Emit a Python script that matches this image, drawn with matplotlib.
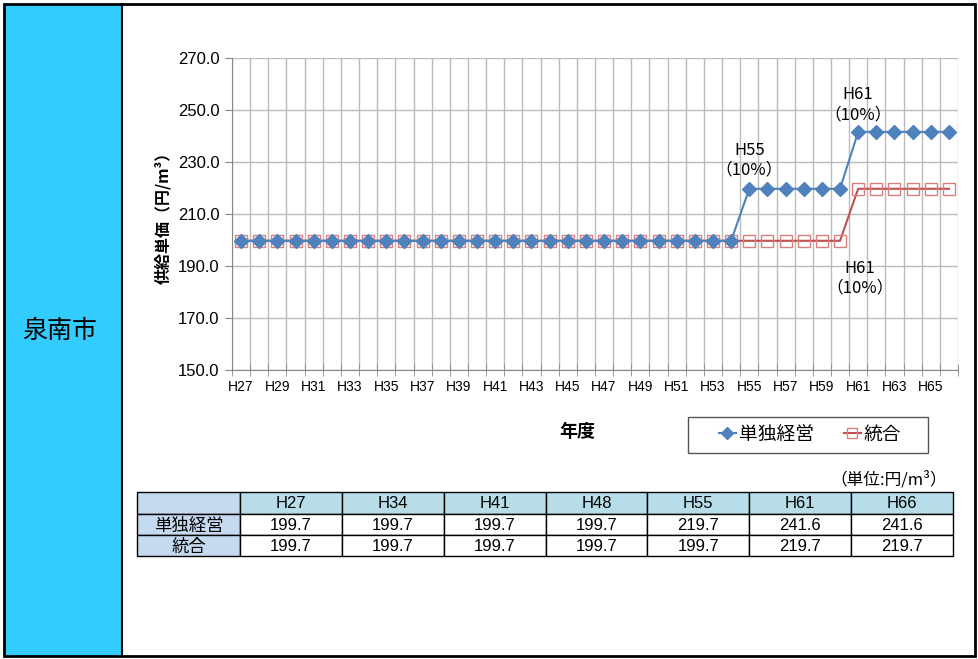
import matplotlib.pyplot as plt
from matplotlib.patches import Rectangle
import numpy as np

plt.rcParams['font.family'] = ['Liberation Sans', 'Noto Sans CJK JP', 'DejaVu Sans']

# ---------------------------------------------------------------------------
# Data
# ---------------------------------------------------------------------------
years = [f'H{y}' for y in range(27, 67)]
single = [199.7] * 28 + [219.7] * 6 + [241.6] * 6   # 単独経営
merged = [199.7] * 34 + [219.7] * 6                  # 統合

table_cols = ['H27', 'H34', 'H41', 'H48', 'H55', 'H61', 'H66']
table_single = [199.7, 199.7, 199.7, 199.7, 219.7, 241.6, 241.6]
table_merged = [199.7, 199.7, 199.7, 199.7, 199.7, 219.7, 219.7]

W, H = 979, 659
fig = plt.figure(figsize=(W / 100, H / 100), dpi=100)

def frac(x0, y0, x1, y1):
    # pixel box (top-left origin) -> figure fraction rect
    return [x0 / W, 1 - y1 / H, (x1 - x0) / W, (y1 - y0) / H]

# background overlay in pixel coordinates
bg = fig.add_axes([0, 0, 1, 1])
bg.set_xlim(0, W)
bg.set_ylim(H, 0)
bg.axis('off')
bg.add_patch(Rectangle((4, 4), 118, 652, facecolor='#33CCFF', edgecolor='none'))
bg.add_patch(Rectangle((4, 4), 971, 652, facecolor='none', edgecolor='black', lw=2))
bg.plot([122, 122], [4, 656], color='black', lw=1.5)
bg.text(60, 331, '泉南市', fontsize=18, ha='center', va='center')

# ---------------------------------------------------------------------------
# Chart
# ---------------------------------------------------------------------------
ax = fig.add_axes(frac(232, 58, 958, 370))
x = np.arange(len(years))
ax.plot(x, merged, color='#C0504D', lw=1.5, marker='s', ms=9,
        mfc='none', mec='#D9807E', mew=1, label='統合', zorder=3)
ax.plot(x, single, color='#4F81BD', lw=1.5, marker='D', ms=7,
        mfc='#4F81BD', mec='#4F81BD', label='単独経営', zorder=4)

ax.set_xlim(-0.5, len(years) - 0.5)
ax.set_ylim(150, 270)
ax.set_yticks(np.arange(150, 271, 20))
ax.set_yticklabels([f'{v:.1f}' for v in range(150, 271, 20)], fontsize=12)
ax.set_xticks(x[::2])
ax.set_xticklabels(years[::2], fontsize=10)
ax.set_xticks(np.arange(-0.5, len(years), 1), minor=True)
ax.tick_params(axis='x', which='major', length=0, pad=7)
ax.tick_params(axis='x', which='minor', direction='inout', length=8, color='#888888')
ax.tick_params(axis='y', direction='out', length=5, color='#888888', pad=4)
ax.grid(True, axis='y', which='major', color='#BBBBBB', lw=1)
ax.grid(True, axis='x', which='minor', color='#BBBBBB', lw=1)
for s in ['top', 'right']:
    ax.spines[s].set_visible(False)
for s in ['left', 'bottom']:
    ax.spines[s].set_color('#888888')

ax.set_ylabel('供給単価（円/m³）', fontsize=11.5, fontweight='bold', labelpad=5,
              family=['Noto Sans CJK JP', 'DejaVu Sans'])

cjk = ['Noto Sans CJK JP', 'DejaVu Sans']
ax.text(x[28], 223.5, 'H55\n（10%）', ha='center', va='bottom', fontsize=12,
        linespacing=1.25, family=cjk)
ax.text(x[34], 245, 'H61\n（10%）', ha='center', va='bottom', fontsize=12,
        linespacing=1.25, family=cjk)
ax.text(x[34] + 0.1, 192.5, 'H61\n（10%）', ha='center', va='top', fontsize=12,
        linespacing=1.25, family=cjk)

bg.text(577, 432, '年度', fontsize=13, fontweight='bold', ha='center', va='center')

handles, labels = ax.get_legend_handles_labels()
leg = fig.legend(handles[::-1], labels[::-1], ncol=2, fontsize=13.5,
                 loc='center', bbox_to_anchor=(810 / W, 1 - 435 / H),
                 frameon=False, handlelength=0.9, handletextpad=0.15,
                 columnspacing=1.6, borderpad=0, borderaxespad=0,
                 markerscale=0.85)
bg.add_patch(Rectangle((688, 417), 240, 36, facecolor='none',
                       edgecolor='#555555', lw=1))

# ---------------------------------------------------------------------------
# Table
# ---------------------------------------------------------------------------
bg.text(947, 480, '（単位:円/m³）', fontsize=12, ha='right', va='center', family=cjk)

tx0, tx1 = 137, 953
first_w = 103
col_w = (tx1 - tx0 - first_w) / len(table_cols)
row_y = [492, 514, 535, 556]
rows = [['単独経営'] + [f'{v:.1f}' for v in table_single],
        ['統合'] + [f'{v:.1f}' for v in table_merged]]
header = [''] + table_cols

for r in range(3):
    y0, y1 = row_y[r], row_y[r + 1]
    cells = header if r == 0 else rows[r - 1]
    for c in range(len(cells)):
        cx0 = tx0 if c == 0 else tx0 + first_w + (c - 1) * col_w
        cx1 = tx0 + first_w if c == 0 else cx0 + col_w
        if c == 0:
            fc = '#C5D9F1'
        elif r == 0:
            fc = '#B7DEE8'
        else:
            fc = 'white'
        bg.add_patch(Rectangle((cx0, y0), cx1 - cx0, y1 - y0,
                               facecolor=fc, edgecolor='black', lw=1))
        fs = 12.5 if c == 0 else 12
        bg.text((cx0 + cx1) / 2, (y0 + y1) / 2 + 1, cells[c], fontsize=fs,
                ha='center', va='center')

fig.savefig('out.png', dpi=100)
